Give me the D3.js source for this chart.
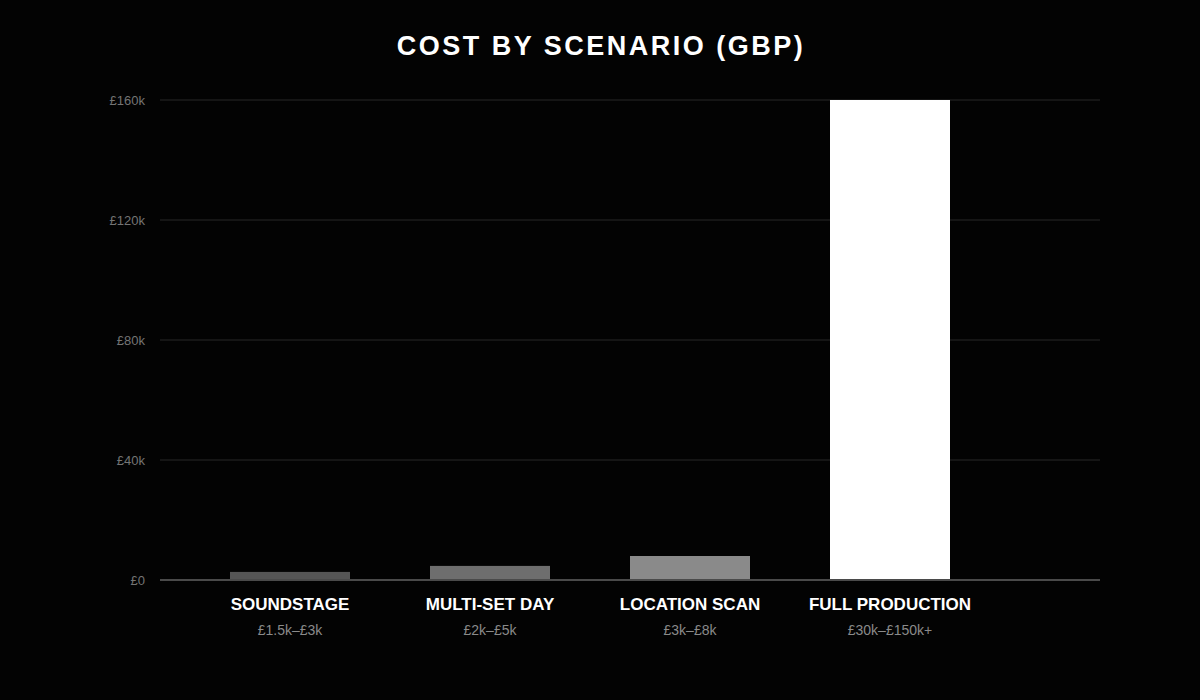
<!DOCTYPE html>
<html><head><meta charset="utf-8">
<script src="https://cdn.jsdelivr.net/npm/d3@7"></script>
<style>
html,body{margin:0;padding:0;background:#030303;}
svg{display:block;font-family:"Liberation Sans",Arial,Helvetica,sans-serif;}
</style></head>
<body>
<svg id="chart" width="1200" height="700"></svg>
<script>
const categories = ["SOUNDSTAGE", "MULTI-SET DAY", "LOCATION SCAN", "FULL PRODUCTION"];
const rangeLabels = ["£1.5k–£3k", "£2k–£5k", "£3k–£8k", "£30k–£150k+"];
const values = [2700, 4700, 8000, 160000];
const barColors = ["#555555", "#6e6e6e", "#8a8a8a", "#ffffff"];
const yTicks = [0, 40000, 80000, 120000, 160000];
const yTickLabels = ["£0", "£40k", "£80k", "£120k", "£160k"];

const svg = d3.select("#chart");
svg.append("rect").attr("width",1200).attr("height",700).attr("fill","#030303");

const plotLeft = 160, plotRight = 1100, plotTop = 100, plotBottom = 580;
const x = d3.scaleBand().domain(categories).range([190, 990]).paddingInner(0.4).paddingOuter(0.2);
const y = d3.scaleLinear().domain([0, 160000]).range([plotBottom, plotTop]);

svg.append("text").attr("x",601).attr("y",55).attr("text-anchor","middle")
  .attr("fill","#ffffff").attr("font-size",27).attr("font-weight","bold")
  .attr("letter-spacing","2.5px").text("COST BY SCENARIO (GBP)");

// grid
const yAxis = d3.axisLeft(y).tickValues(yTicks).tickFormat((d,i)=>yTickLabels[i]).tickSize(0).tickPadding(15);
const gy = svg.append("g").attr("transform",`translate(${plotLeft},0)`).call(yAxis);
gy.select(".domain").remove();
gy.selectAll("text").attr("fill","#747474").attr("font-size",13)
  .attr("font-family","'Liberation Sans',Arial,sans-serif");
svg.append("g").selectAll("line").data(yTicks.filter(d=>d>0)).join("line")
  .attr("x1",plotLeft).attr("x2",plotRight)
  .attr("y1",d=>y(d)).attr("y2",d=>y(d))
  .attr("stroke","#1c1c1c").attr("stroke-width",1.5);

// bars
svg.append("g").selectAll("rect").data(categories).join("rect")
  .attr("x",d=>x(d)).attr("width",x.bandwidth())
  .attr("y",(d,i)=>y(values[i])).attr("height",(d,i)=>y(0)-y(values[i]))
  .attr("fill",(d,i)=>barColors[i]);

// baseline
svg.append("line").attr("x1",plotLeft).attr("x2",plotRight)
  .attr("y1",y(0)).attr("y2",y(0)).attr("stroke","#4a4a4a").attr("stroke-width",2);

// x labels
const xAxis = d3.axisBottom(x).tickSize(0).tickPadding(0);
const gx = svg.append("g").attr("transform",`translate(0,${plotBottom})`).call(xAxis);
gx.select(".domain").remove();
gx.selectAll("text").attr("fill","#ffffff").attr("font-size",17).attr("font-weight","bold")
  .attr("font-family","'Liberation Sans',Arial,sans-serif").attr("dy",null).attr("y",30);

svg.append("g").selectAll("text").data(categories).join("text")
  .attr("x",d=>x(d)+x.bandwidth()/2).attr("y",635).attr("text-anchor","middle")
  .attr("fill","#8a8a8a").attr("font-size",14)
  .text((d,i)=>rangeLabels[i]);
</script>
</body></html>
